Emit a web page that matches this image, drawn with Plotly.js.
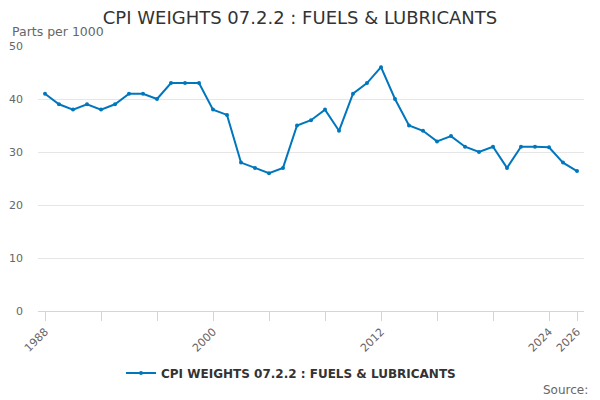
<!DOCTYPE html>
<html>
<head>
<meta charset="utf-8">
<script src="https://cdn.plot.ly/plotly-3.0.1.min.js"></script>
<style>
  html, body { margin: 0; padding: 0; background: #fff; }
  #myDiv { width: 600px; height: 400px; }
</style>
</head>
<body>
<div id="myDiv"></div>
<script>
// years and weights (parts per 1000)
let years = [];
for (let y = 1988; y <= 2026; y++) years.push(y);

let weights = [
  41, 39, 38, 39, 38, 39, 41, 41, 40, 43,
  43, 43, 38, 37, 28, 27, 26, 27, 35, 36,
  38, 34, 41, 43, 46, 40, 35, 34, 32, 33,
  31, 30, 31, 27, 31, 31, 30.9, 28, 26.4
];

let tickYears = [1988, 1992, 1996, 2000, 2004, 2008, 2012, 2016, 2020, 2024, 2026];
let labelYears = [1988, 2000, 2012, 2024, 2026];

let seriesName = "CPI WEIGHTS 07.2.2 : FUELS & LUBRICANTS";
let lineColor = "#0077bd";

let tickText = tickYears.map(y => (labelYears.includes(y) ? String(y) : ""));

let trace = {
  x: years,
  y: weights,
  mode: "lines+markers",
  name: seriesName,
  line: { color: lineColor, width: 2 },
  marker: { color: lineColor, size: 4 },
  showlegend: true
};

let layout = {
  width: 600,
  height: 400,
  margin: { l: 38, r: 16, t: 46, b: 89 },
  paper_bgcolor: "#fff",
  plot_bgcolor: "#fff",
  font: { family: "DejaVu Sans, sans-serif", color: "#666", size: 11 },
  title: {
    text: seriesName,
    x: 0.5,
    xanchor: "center",
    y: 1 - 18 / 400,
    yanchor: "middle",
    font: { size: 18, color: "#333" }
  },
  xaxis: {
    range: [1987.5, 2026.5],
    tickmode: "array",
    tickvals: tickYears,
    ticktext: tickText,
    tickangle: -45,
    ticks: "outside",
    ticklen: 9,
    tickcolor: "#ccd6eb",
    showline: true,
    linecolor: "#ccd6eb",
    showgrid: false,
    zeroline: false,
    automargin: false,
    fixedrange: true,
    tickfont: { size: 11, color: "#666" }
  },
  yaxis: {
    range: [0, 50],
    tickvals: [0, 10, 20, 30, 40, 50],
    showgrid: true,
    gridcolor: "#e6e6e6",
    zeroline: false,
    showline: false,
    ticks: "",
    ticklabelstandoff: 14,
    automargin: false,
    fixedrange: true,
    tickfont: { size: 11, color: "#666" }
  },
  legend: {
    orientation: "h",
    xref: "container",
    yref: "container",
    x: 0.485,
    xanchor: "center",
    y: 1 - 373 / 400,
    yanchor: "middle",
    font: { size: 12, color: "#333", weight: "bold" }
  },
  annotations: [
    {
      text: "Parts per 1000",
      xref: "paper", yref: "paper",
      x: -0.052, xanchor: "left",
      y: 1.053, yanchor: "middle",
      showarrow: false,
      font: { size: 12.5, color: "#666" }
    },
    {
      text: "Source:",
      xref: "paper", yref: "paper",
      x: 1.011, xanchor: "right",
      y: -0.298, yanchor: "middle",
      showarrow: false,
      font: { size: 12, color: "#666" }
    }
  ]
};

Plotly.newPlot("myDiv", [trace], layout, { displayModeBar: false, staticPlot: true });
</script>
</body>
</html>
